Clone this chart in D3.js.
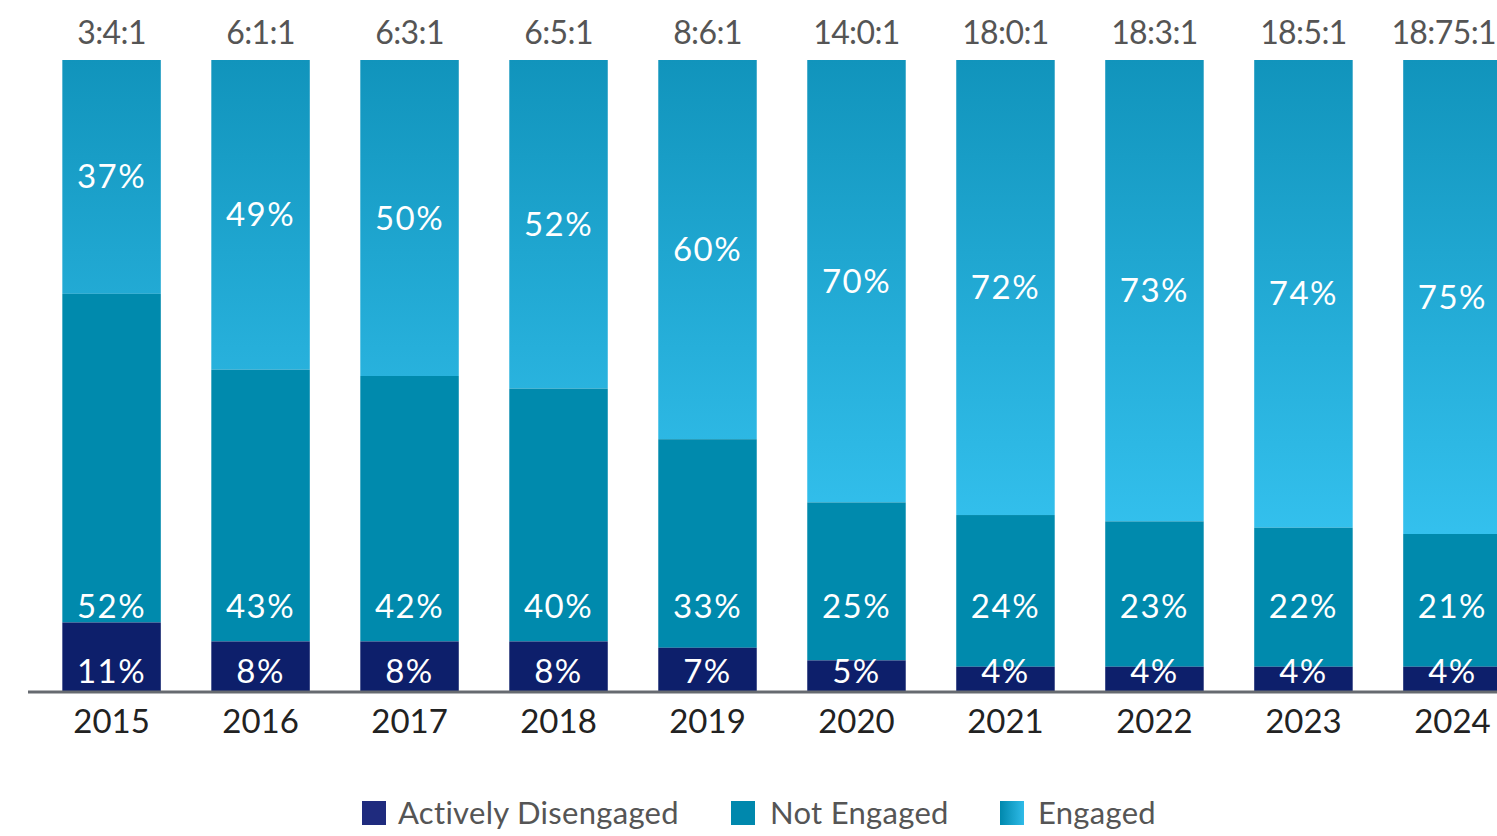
<!DOCTYPE html>
<html>
<head>
<meta charset="utf-8">
<script src="https://cdn.jsdelivr.net/npm/d3@7/dist/d3.min.js"></script>
<style>
  html, body { margin: 0; padding: 0; background: #fff; }
  svg { display: block; font-family: "Lato", "Open Sans", sans-serif; }
</style>
</head>
<body>
<svg id="chart" width="1497" height="836"></svg>
<script>
// Engagement mix by year (percent of respondents)
const years = ["2015", "2016", "2017", "2018", "2019", "2020", "2021", "2022", "2023", "2024"];
const ratios = ["3:4:1", "6:1:1", "6:3:1", "6:5:1", "8:6:1", "14:0:1", "18:0:1", "18:3:1", "18:5:1", "18:75:1"];
const activelyDisengaged = [11, 8, 8, 8, 7, 5, 4, 4, 4, 4];
const notEngaged = [52, 43, 42, 40, 33, 25, 24, 23, 22, 21];
const engaged = [37, 49, 50, 52, 60, 70, 72, 73, 74, 75];
const seriesNames = ["Actively Disengaged", "Not Engaged", "Engaged"];

const svg = d3.select("#chart");
const W = 1497;
const plotTop = 60, plotBase = 692;

const x = d3.scaleBand().domain(years).range([37, 1527]).paddingInner(0.339).paddingOuter(0.17);
const y = d3.scaleLinear().domain([0, 100]).range([plotBase, plotTop]);

const colDis = "#0d1f6b";
const colNot = "#008aad";

const defs = svg.append("defs");
const grad = defs.append("linearGradient")
  .attr("id", "engGrad").attr("gradientUnits", "userSpaceOnUse")
  .attr("x1", 0).attr("x2", 0).attr("y1", plotTop).attr("y2", 540);
grad.append("stop").attr("offset", "0%").attr("stop-color", "#1194bc");
grad.append("stop").attr("offset", "100%").attr("stop-color", "#34c1ee");

const legGrad = defs.append("linearGradient")
  .attr("id", "legGrad").attr("x1", "0%").attr("x2", "100%").attr("y1", "0%").attr("y2", "0%");
legGrad.append("stop").attr("offset", "0%").attr("stop-color", "#0088ad");
legGrad.append("stop").attr("offset", "100%").attr("stop-color", "#2fbbe8");

const rows = years.map((yr, i) => ({
  year: yr, ratio: ratios[i],
  dis: activelyDisengaged[i], not: notEngaged[i], eng: engaged[i]
}));

const bars = svg.append("g").selectAll("g").data(rows).join("g");

// Engaged segment (top)
bars.append("rect")
  .attr("x", d => x(d.year)).attr("width", x.bandwidth())
  .attr("y", d => y(d.dis + d.not + d.eng))
  .attr("height", d => y(d.dis + d.not) - y(d.dis + d.not + d.eng))
  .attr("fill", "url(#engGrad)");

// Not engaged segment (middle)
bars.append("rect")
  .attr("x", d => x(d.year)).attr("width", x.bandwidth())
  .attr("y", d => y(d.dis + d.not))
  .attr("height", d => y(d.dis) - y(d.dis + d.not))
  .attr("fill", colNot);

// Actively disengaged segment (bottom)
bars.append("rect")
  .attr("x", d => x(d.year)).attr("width", x.bandwidth())
  .attr("y", d => y(d.dis))
  .attr("height", d => y(0) - y(d.dis))
  .attr("fill", colDis);

// Baseline
svg.append("line")
  .attr("x1", 28).attr("x2", W).attr("y1", plotBase).attr("y2", plotBase)
  .attr("stroke", "#666a70").attr("stroke-width", 3);

const cx = d => x(d.year) + x.bandwidth() / 2;

// Value labels
const valueLabel = sel => sel
  .attr("dy", "0.35em").attr("text-anchor", "middle")
  .attr("fill", "#fff").attr("font-size", 33).attr("letter-spacing", 1.5);

bars.append("text").call(valueLabel)
  .attr("x", cx).attr("y", d => (y(d.dis + d.not + d.eng) + y(d.dis + d.not)) / 2)
  .text(d => d.eng + "%");

bars.append("text").call(valueLabel)
  .attr("x", cx).attr("y", 606)
  .text(d => d.not + "%");

bars.append("text").call(valueLabel)
  .attr("x", cx).attr("y", 671)
  .text(d => d.dis + "%");

// Ratio labels above bars (kept inside the right edge)
bars.append("text")
  .attr("x", cx).attr("y", 33)
  .attr("dy", "0.35em").attr("text-anchor", "middle")
  .attr("fill", "#555").attr("font-size", 32).attr("letter-spacing", -0.6)
  .text(d => d.ratio)
  .each(function(d) {
    const half = this.getComputedTextLength() / 2;
    d3.select(this).attr("x", Math.min(cx(d), W - half - 1));
  });

// Year labels
bars.append("text")
  .attr("x", cx).attr("y", 721)
  .attr("dy", "0.35em").attr("text-anchor", "middle")
  .attr("fill", "#222").attr("font-size", 33)
  .text(d => d.year);

// Legend
const legendItems = [
  { name: seriesNames[0], fill: "#1f2b7e", x: 362, tx: 398 },
  { name: seriesNames[1], fill: "#0088ad", x: 731, tx: 770 },
  { name: seriesNames[2], fill: "url(#legGrad)", x: 1000, tx: 1038 }
];
const leg = svg.append("g").selectAll("g").data(legendItems).join("g");
leg.append("rect")
  .attr("x", d => d.x).attr("y", 801).attr("width", 24).attr("height", 24)
  .attr("fill", d => d.fill);
leg.append("text")
  .attr("x", d => d.tx).attr("y", 813).attr("dy", "0.35em")
  .attr("fill", "#555").attr("font-size", 31).attr("letter-spacing", 0.3)
  .text(d => d.name);
</script>
</body>
</html>
